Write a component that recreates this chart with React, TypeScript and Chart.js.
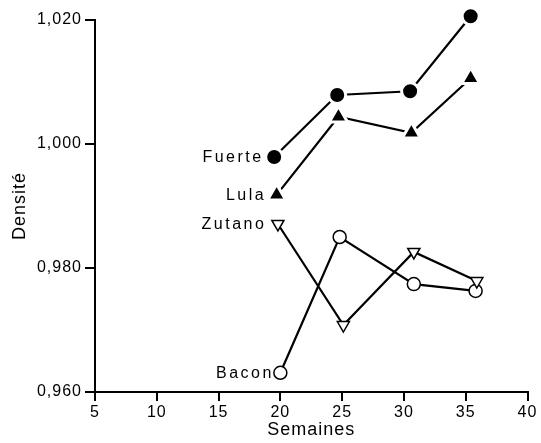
import React, { useEffect, useRef } from "react";
import { Chart, registerables } from "chart.js";

Chart.register(...registerables);

const xTickValues = [5, 10, 15, 20, 25, 30, 35, 40];
const yTickValues = [0.96, 0.98, 1.0, 1.02];

const seriesNames = ["Fuerte", "Lula", "Zutano", "Bacon"];

const fuerteWeeks = [19.5, 24.6, 30.5, 35.4];
const fuerteDensity = [0.9979, 1.0079, 1.0085, 1.0206];

const lulaWeeks = [19.7, 24.7, 30.6, 35.4];
const lulaDensity = [0.9918, 1.0044, 1.0018, 1.0106];

const zutanoWeeks = [19.8, 25.1, 30.8, 35.9];
const zutanoDensity = [0.9871, 0.9708, 0.9826, 0.9779];

const baconWeeks = [20.0, 24.8, 30.8, 35.8];
const baconDensity = [0.9631, 0.985, 0.9774, 0.9763];

const FONT = '"Liberation Sans", Arial, Helvetica, sans-serif';

const toPoints = (xs: number[], ys: number[]) => xs.map((x, i) => ({ x, y: ys[i] }));

const labelOffsets = [13, 13, 14, 9];

const spacingPlugin = {
  id: "spacing",
  beforeDraw(chart: any) {
    chart.ctx.letterSpacing = "1px";
  },
};

const seriesLabelPlugin = {
  id: "seriesLabels",
  afterDatasetsDraw(chart: any) {
    const ctx = chart.ctx;
    ctx.save();
    ctx.letterSpacing = "2.5px";
    ctx.font = `16px ${FONT}`;
    ctx.fillStyle = "#000";
    ctx.textAlign = "right";
    ctx.textBaseline = "middle";
    chart.data.datasets.forEach((ds: any, i: number) => {
      const meta = chart.getDatasetMeta(i);
      const p = meta.data[0];
      if (!p) return;
      ctx.fillText(ds.label, p.x - labelOffsets[i] + 2.5, p.y + 1);
    });
    ctx.restore();
  },
};

export default function App() {
  const ref = useRef<HTMLCanvasElement | null>(null);

  useEffect(() => {
    if (!ref.current) return;
    const chart = new Chart(ref.current, {
      type: "line",
      data: {
        datasets: [
          {
            label: seriesNames[0],
            data: toPoints(fuerteWeeks, fuerteDensity),
            borderColor: "#000",
            borderWidth: 2.2,
            clip: false,
            pointStyle: "circle",
            pointRadius: 8.5,
            pointBackgroundColor: "#000",
            pointBorderColor: "#fff",
            pointBorderWidth: 3,
          },
          {
            label: seriesNames[1],
            data: toPoints(lulaWeeks, lulaDensity),
            borderColor: "#000",
            borderWidth: 2.2,
            clip: false,
            pointStyle: "triangle",
            pointRadius: 10.5,
            pointBackgroundColor: "#000",
            pointBorderColor: "#fff",
            pointBorderWidth: 3,
          },
          {
            label: seriesNames[2],
            data: toPoints(zutanoWeeks, zutanoDensity),
            borderColor: "#000",
            borderWidth: 2.2,
            clip: false,
            pointStyle: "triangle",
            pointRotation: 180,
            pointRadius: 7,
            pointBackgroundColor: "#fff",
            pointBorderColor: "#000",
            pointBorderWidth: 1.5,
          },
          {
            label: seriesNames[3],
            data: toPoints(baconWeeks, baconDensity),
            borderColor: "#000",
            borderWidth: 2.2,
            clip: false,
            pointStyle: "circle",
            pointRadius: 6.5,
            pointBackgroundColor: "#fff",
            pointBorderColor: "#000",
            pointBorderWidth: 1.5,
          },
        ],
      },
      options: {
        responsive: false,
        devicePixelRatio: 1,
        animation: false,
        layout: { padding: { top: 20, right: 9, left: 0, bottom: 0 } },
        plugins: {
          legend: { display: false },
          tooltip: { enabled: false },
        },
        scales: {
          x: {
            type: "linear",
            min: 5,
            max: 40,
            afterBuildTicks: (s: any) => {
              s.ticks = xTickValues.map((v) => ({ value: v }));
            },
            afterFit: (s: any) => {
              s.height = 51;
            },
            ticks: {
              color: "#000",
              font: { family: FONT, size: 16 },
              padding: 2,
              maxRotation: 0,
              callback: (v: any) => String(v),
            },
            grid: {
              display: true,
              drawOnChartArea: false,
              drawTicks: true,
              tickLength: 9,
              color: "#000",
              lineWidth: 2,
            },
            border: { display: true, color: "#000", width: 2 },
            title: {
              display: true,
              text: "Semaines",
              color: "#000",
              font: { family: FONT, size: 18 },
              padding: { top: 0, bottom: 2 },
            },
          },
          y: {
            type: "linear",
            min: 0.96,
            max: 1.02,
            afterBuildTicks: (s: any) => {
              s.ticks = yTickValues.map((v) => ({ value: v }));
            },
            afterFit: (s: any) => {
              s.width = 95;
            },
            ticks: {
              color: "#000",
              font: { family: FONT, size: 16 },
              padding: 3,
              callback: (v: any) => Number(v).toFixed(3).replace(".", ","),
            },
            grid: {
              display: true,
              drawOnChartArea: false,
              drawTicks: true,
              tickLength: 10,
              color: "#000",
              lineWidth: 2,
            },
            border: { display: true, color: "#000", width: 2 },
            title: {
              display: true,
              text: "Densité",
              color: "#000",
              font: { family: FONT, size: 18 },
              padding: { top: 9, bottom: 0 },
            },
          },
        },
      },
      plugins: [spacingPlugin, seriesLabelPlugin],
    } as any);
    return () => chart.destroy();
  }, []);

  return (
    <div style={{ position: "absolute", left: 0, top: 0, width: 541, height: 443, background: "#fff" }}>
      <canvas ref={ref} width={541} height={443} style={{ display: "block" }} />
    </div>
  );
}
